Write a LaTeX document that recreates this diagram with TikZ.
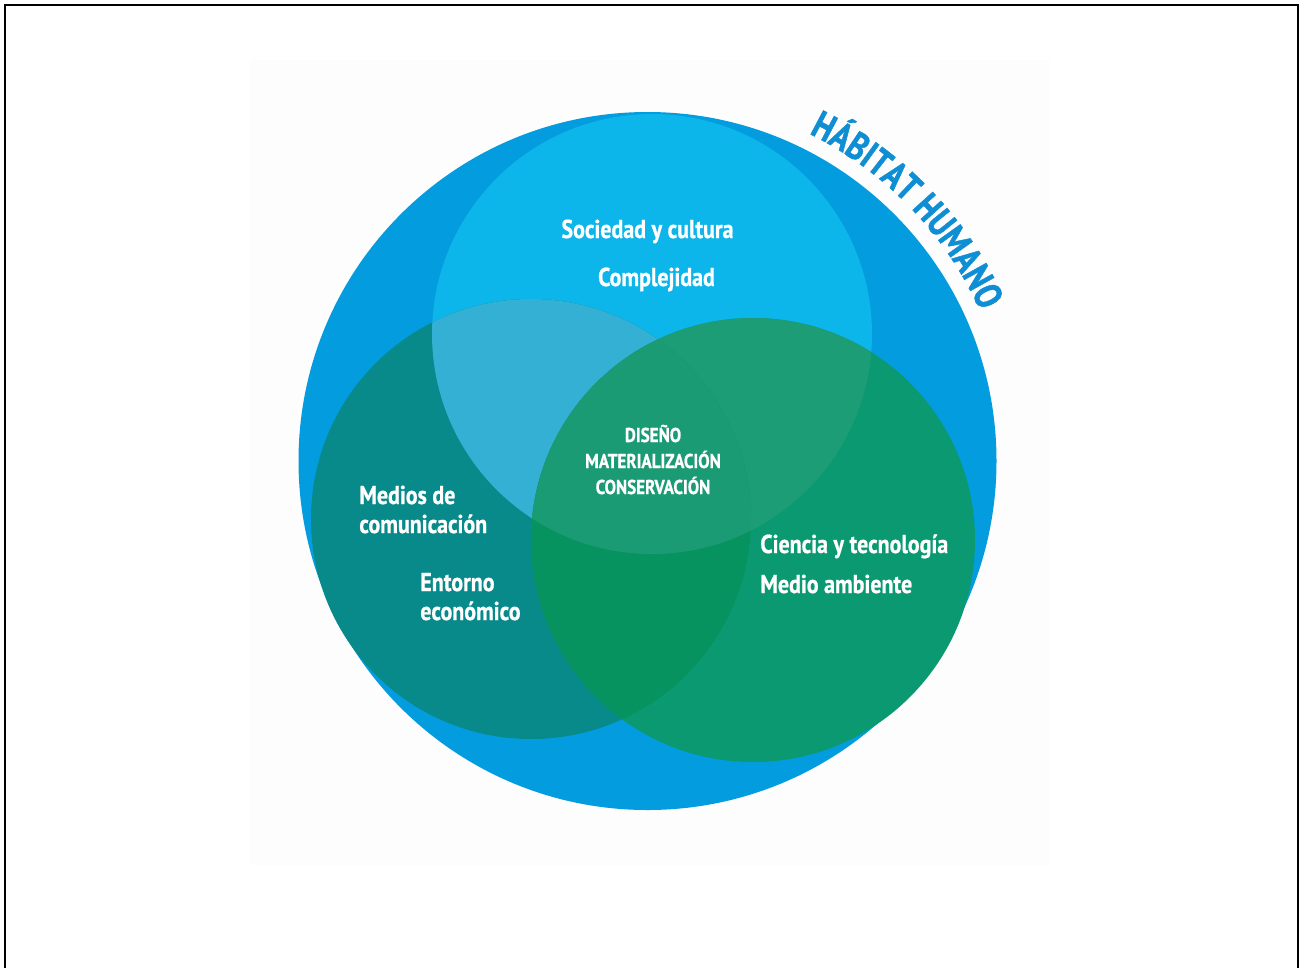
\documentclass[tikz,border=0pt]{standalone}
\usepackage{fontspec}
\newfontfamily\cond[FakeStretch=0.85,FakeBold=0.8]{PT Sans}
\newfontfamily\condh[FakeStretch=0.8,FakeBold=1.2]{PT Sans}
\usetikzlibrary{decorations.text}
\definecolor{bigblue}{RGB}{2,156,223}
\definecolor{topcyan}{RGB}{12,181,234}
\definecolor{leftteal}{RGB}{8,137,138}
\definecolor{rightgreen}{RGB}{10,153,113}
\definecolor{topleft}{RGB}{52,176,212}
\definecolor{topright}{RGB}{29,157,118}
\definecolor{leftright}{RGB}{6,147,95}
\definecolor{allthree}{RGB}{27,155,115}
\definecolor{habblue}{RGB}{16,142,212}
\definecolor{bgfaint}{RGB}{253,253,253}
\newcommand{\habfont}{\color{habblue}\condh\bfseries\fontsize{22}{26}\selectfont}
\tikzset{
  lab/.style={text=white, font=\cond\bfseries\fontsize{14.7}{17}\selectfont, inner sep=0pt},
  labsmall/.style={text=white, font=\cond\bfseries\fontsize{11.4}{13}\selectfont, inner sep=0pt},
  frame/.style={line width=1.3pt, black}
}
\def\bigC{(647.5,-461) circle[radius=349]}
\def\topC{(652,-334) circle[radius=220]}
\def\leftC{(531,-519) circle[radius=220]}
\def\rightC{(753,-540) circle[radius=222]}
\begin{document}
\begin{tikzpicture}[x=0.02cm,y=0.02cm]
\useasboundingbox (0,0) rectangle (1305,-968);
\fill[white] (0,0) rectangle (1305,-968);
\fill[bgfaint] (250,-60) rectangle (1050,-865);
\draw[frame] (5,-968) -- (5,-5) -- (1298,-5) -- (1298,-968);
% circles
\fill[bigblue] \bigC;
\fill[topcyan] \topC;
\fill[leftteal] \leftC;
\fill[rightgreen] \rightC;
\begin{scope}
  \clip \topC;
  \fill[topleft] \leftC;
  \fill[topright] \rightC;
\end{scope}
\begin{scope}
  \clip \leftC;
  \fill[leftright] \rightC;
\end{scope}
\begin{scope}
  \clip \topC;
  \clip \leftC;
  \fill[allthree] \rightC;
\end{scope}
% curved title
\path[decorate, decoration={text along path, text align=center,
  text={|\habfont|HÁBITAT HUMANO}}]
  (647.5,-461) ++(80:365) arc[start angle=80, end angle=8, radius=365];
% labels
\node[lab, anchor=base] (soc) at (647.5,-238) {Sociedad y cultura};
\node[lab, anchor=base] (comp) at (656.5,-286) {Complejidad};
\node[labsmall, anchor=base] (dis) at (653,-442) {DISEÑO};
\node[labsmall, anchor=base] (mat) at (653,-468) {MATERIALIZACIÓN};
\node[labsmall, anchor=base] (cons) at (653,-494) {CONSERVACIÓN};
\node[lab, anchor=base west] (med) at (359,-504) {Medios de};
\node[lab, anchor=base west] (comu) at (359,-533) {comunicación};
\node[lab, anchor=base west] (ent) at (420,-591) {Entorno};
\node[lab, anchor=base west] (eco) at (420,-620) {económico};
\node[lab, anchor=base west] (cien) at (760,-553) {Ciencia y tecnología};
\node[lab, anchor=base west] (mamb) at (760,-593) {Medio ambiente};
\end{tikzpicture}
\end{document}
